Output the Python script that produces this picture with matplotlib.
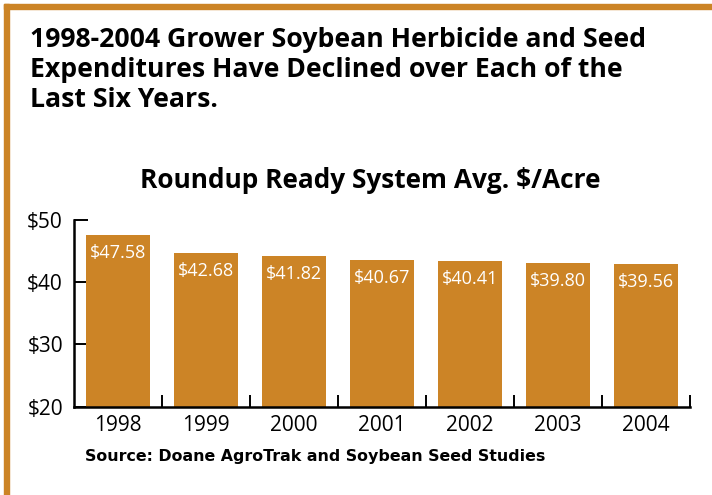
import matplotlib
matplotlib.use('Agg')
import matplotlib.pyplot as plt
from matplotlib.patches import Rectangle

years = ['1998', '1999', '2000', '2001', '2002', '2003', '2004']
bar_heights = [47.56, 44.67, 44.24, 43.55, 43.39, 43.07, 42.90]
bar_labels = ['$47.58', '$42.68', '$41.82', '$40.67', '$40.41', '$39.80', '$39.56']
y_ticks = [20, 30, 40, 50]
y_tick_labels = ['$20', '$30', '$40', '$50']

title = ("1998-2004 Grower Soybean Herbicide and Seed\n"
         "Expenditures Have Declined over Each of the\n"
         "Last Six Years.")
subtitle = "Roundup Ready System Avg. $/Acre"
source = "Source: Doane AgroTrak and Soybean Seed Studies"

W, H = 712, 495
orange = '#CC8426'
font = 'Open Sans'

fig = plt.figure(figsize=(W / 100, H / 100), dpi=100)
fig.patch.set_facecolor('white')

# frame lines (left and top)
fig.patches.append(Rectangle((4 / W, 0), 5 / W, 1 - 4 / H,
                             transform=fig.transFigure, color=orange, zorder=0))
fig.patches.append(Rectangle((4 / W, 1 - 9 / H), 1 - 4 / W, 5 / H,
                             transform=fig.transFigure, color=orange, zorder=0))

ax = fig.add_axes([74 / W, 1 - 406.7 / H, (690 - 74) / W, (406.7 - 220) / H])
x = list(range(len(years)))
ax.bar(x, bar_heights, width=0.725, color=orange, zorder=2)
ax.set_xlim(-0.5, len(years) - 0.5)
ax.set_ylim(20, 50)

for s in ['top', 'right']:
    ax.spines[s].set_visible(False)
for s in ['left', 'bottom']:
    ax.spines[s].set_linewidth(1.8)
    ax.spines[s].set_color('black')
    ax.spines[s].set_zorder(3)

ax.set_yticks(y_ticks)
ax.set_yticklabels(y_tick_labels, fontfamily=font, fontsize=15)
ax.tick_params(axis='y', direction='in', length=10, width=1.4, pad=8)

ax.set_xticks(x)
ax.set_xticklabels(years, fontfamily=font, fontsize=15)
ax.set_xticks([i + 0.5 for i in x], minor=True)
ax.tick_params(axis='x', which='major', length=0, pad=6)
ax.tick_params(axis='x', which='minor', direction='in', length=9, width=1.4)

for xi, h, lab in zip(x, bar_heights, bar_labels):
    ax.annotate(lab, (xi, h), xytext=(0, -6.5), textcoords='offset points',
                ha='center', va='top', color='white', fontsize=13,
                fontfamily=font, zorder=4)

fig.text(30 / W, 1 - 27 / H, title, fontsize=19.2, fontweight='bold',
         fontfamily=font, va='top', ha='left', linespacing=1.2)
fig.text(370 / W, 1 - 180 / H, subtitle, fontsize=18.9, fontweight='bold',
         fontfamily=font, va='center', ha='center')
fig.text(85 / W, 1 - 457 / H, source, fontsize=11.4, fontweight='bold',
         fontfamily='DejaVu Sans', va='center', ha='left')

fig.savefig('out.png', dpi=100)
